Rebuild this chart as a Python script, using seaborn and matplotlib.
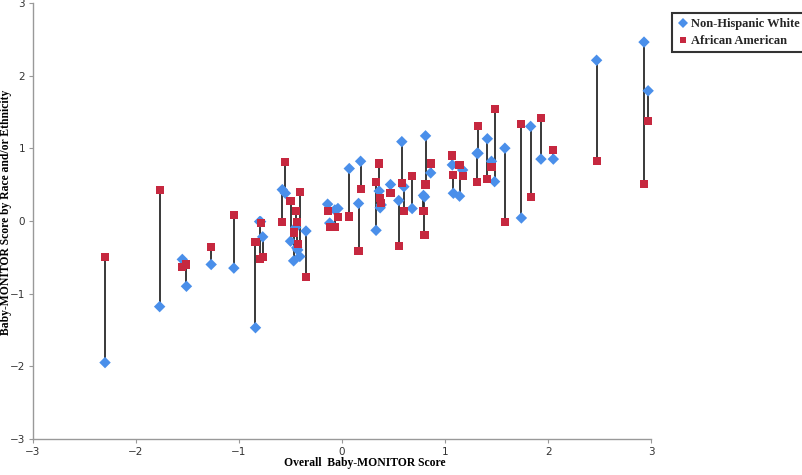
import seaborn as sns
import matplotlib.pyplot as plt
import pandas as pd

# overall score (x) and the two group scores at each x
overall = [-2.30, -1.77, -1.55, -1.51, -1.27, -1.05, -0.84, -0.80, -0.79, -0.77,
           -0.58, -0.55, -0.50, -0.47, -0.45, -0.44, -0.43, -0.41, -0.35,
           -0.14, -0.12, -0.07, -0.04, 0.07, 0.16, 0.18, 0.33, 0.36, 0.37, 0.38,
           0.47, 0.55, 0.58, 0.60, 0.68, 0.79, 0.80, 0.81, 0.86, 1.07, 1.08,
           1.14, 1.17, 1.31, 1.32, 1.41, 1.45, 1.48, 1.58, 1.74, 1.83, 1.93,
           2.05, 2.47, 2.93, 2.97]
white = [-1.95, -1.18, -0.53, -0.90, -0.60, -0.65, -1.47, -0.01, -0.01, -0.22,
         0.43, 0.38, -0.28, -0.55, -0.09, -0.37, -0.40, -0.49, -0.14,
         0.23, -0.03, 0.15, 0.17, 0.72, 0.24, 0.82, -0.13, 0.41, 0.18, 0.22,
         0.50, 0.28, 1.09, 0.47, 0.17, 0.35, 0.33, 1.17, 0.66, 0.77, 0.38,
         0.34, 0.70, 0.93, 0.93, 1.13, 0.82, 0.54, 1.00, 0.04, 1.30, 0.85,
         0.85, 2.21, 2.46, 1.79]
african = [-0.50, 0.42, -0.63, -0.60, -0.36, 0.08, -0.29, -0.53, -0.03, -0.50,
           -0.01, 0.81, 0.27, -0.16, 0.14, -0.01, -0.32, 0.40, -0.77,
           0.13, -0.09, -0.09, 0.05, 0.06, -0.41, 0.44, 0.53, 0.79, 0.31, 0.25,
           0.38, -0.34, 0.52, 0.13, 0.62, 0.14, -0.20, 0.50, 0.79, 0.90, 0.63,
           0.77, 0.62, 0.54, 1.30, 0.58, 0.74, 1.54, -0.01, 1.33, 0.33, 1.42,
           0.97, 0.83, 0.51, 1.37]

groups = ['Non-Hispanic White', 'African American']
colors = ['#4a8fea', '#c6283f']

df = pd.DataFrame({
    'overall': overall * 2,
    'score': white + african,
    'group': [groups[0]] * len(overall) + [groups[1]] * len(overall),
})

fig = plt.figure(figsize=(8.02, 4.75), dpi=100)
ax = fig.add_axes([0.041, 0.076, 0.771, 0.918])
sns.set_style('white')

ax.vlines(overall, white, african, colors='#2a2a2a', linewidth=1.3, zorder=1)
sns.scatterplot(data=df, x='overall', y='score', hue='group', style='group',
                markers={groups[0]: 'D', groups[1]: 's'},
                palette=dict(zip(groups, colors)), s=34, linewidth=0,
                ax=ax, zorder=3, legend=True)
for coll in ax.collections:
    coll.set_clip_on(False)

ax.set_xlim(-3, 3)
ax.set_ylim(-3, 3)
ax.set_xticks(range(-3, 4))
ax.set_yticks(range(-3, 4))
ax.set_xticklabels([str(t).replace('-', '\u2212') for t in range(-3, 4)])
ax.set_yticklabels([str(t).replace('-', '\u2212') for t in range(-3, 4)])
ax.tick_params(labelsize=7.5, colors='#333333', length=3, color='#999999', pad=2.5)
for side in ['top', 'right']:
    ax.spines[side].set_visible(False)
for side in ['left', 'bottom']:
    ax.spines[side].set_color('#999999')
    ax.spines[side].set_linewidth(1)

serif = {'family': 'Liberation Serif', 'weight': 'bold', 'size': 8.4}
ax.set_xlabel('Overall  Baby-MONITOR Score', fontdict=serif)
ax.xaxis.set_label_coords(0.536, -0.042)
ax.set_ylabel('Baby-MONITOR Score by Race and/or Ethnicity', fontdict=serif)
ax.yaxis.set_label_coords(-0.0345, 0.52)

handles, labels = ax.get_legend_handles_labels()
leg = ax.legend(handles, labels, loc='upper left', bbox_to_anchor=(672 / 802, 1 - 13 / 475),
                bbox_transform=fig.transFigure, frameon=True, fancybox=False,
                prop={'family': 'Liberation Serif', 'weight': 'bold', 'size': 9},
                handletextpad=0.1, handlelength=1.0, borderpad=0.4, labelspacing=0.4,
                markerscale=0.8, borderaxespad=0)
leg.get_frame().set_edgecolor('black')
leg.get_frame().set_linewidth(1.5)

fig.savefig('out.png', dpi=100)
